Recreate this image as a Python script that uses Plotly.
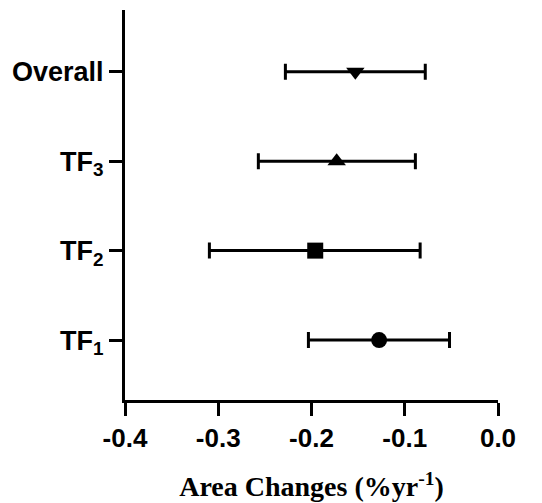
import plotly.graph_objects as go

categories = ["TF1", "TF2", "TF3", "Overall"]
tick_labels = ["TF<sub>1</sub>", "TF<sub>2</sub>", "TF<sub>3</sub>", "Overall"]
means = [-0.1275, -0.196, -0.173, -0.153]
lower = [-0.2033, -0.3095, -0.257, -0.228]
upper = [-0.052, -0.0835, -0.0886, -0.078]
symbols = ["circle", "square", "triangle-up", "triangle-down"]

fig = go.Figure()
for i, c in enumerate(categories):
    fig.add_trace(go.Scatter(
        x=[means[i]], y=[i], mode="markers",
        marker=dict(symbol=symbols[i], size=16, color="black"),
        error_x=dict(type="data", symmetric=False,
                     array=[upper[i] - means[i]],
                     arrayminus=[means[i] - lower[i]],
                     color="black", thickness=3, width=8),
        showlegend=False,
    ))

fig.update_layout(
    width=542, height=503,
    margin=dict(l=125, r=44, t=10, b=103),
    paper_bgcolor="white", plot_bgcolor="white",
    font=dict(family="Arial, Liberation Sans", color="black"),
)
fig.update_xaxes(
    range=[-0.4, 0], tickvals=[-0.4, -0.3, -0.2, -0.1, 0.0],
    ticktext=["-0.4", "-0.3", "-0.2", "-0.1", "0.0"],
    showline=True, linecolor="black", linewidth=3, mirror=False,
    ticks="outside", ticklen=13, tickwidth=3, tickcolor="black",
    showgrid=False, zeroline=False, automargin=False,
    tickfont=dict(size=26, family="Liberation Sans", weight="bold"),
    title=dict(text="Area Changes (%yr<sup>-1</sup>)",
               font=dict(size=28, family="Liberation Serif", weight="bold"),
               standoff=25),
)
fig.update_yaxes(
    range=[-0.67, 3.69], tickvals=[0, 1, 2, 3], ticktext=tick_labels,
    showline=True, linecolor="black", linewidth=3,
    ticks="outside", ticklen=13, tickwidth=3, tickcolor="black",
    showgrid=False, zeroline=False, automargin=False,
    tickfont=dict(size=27, family="Liberation Sans", weight="bold"),
)

fig.write_html("out.html")
